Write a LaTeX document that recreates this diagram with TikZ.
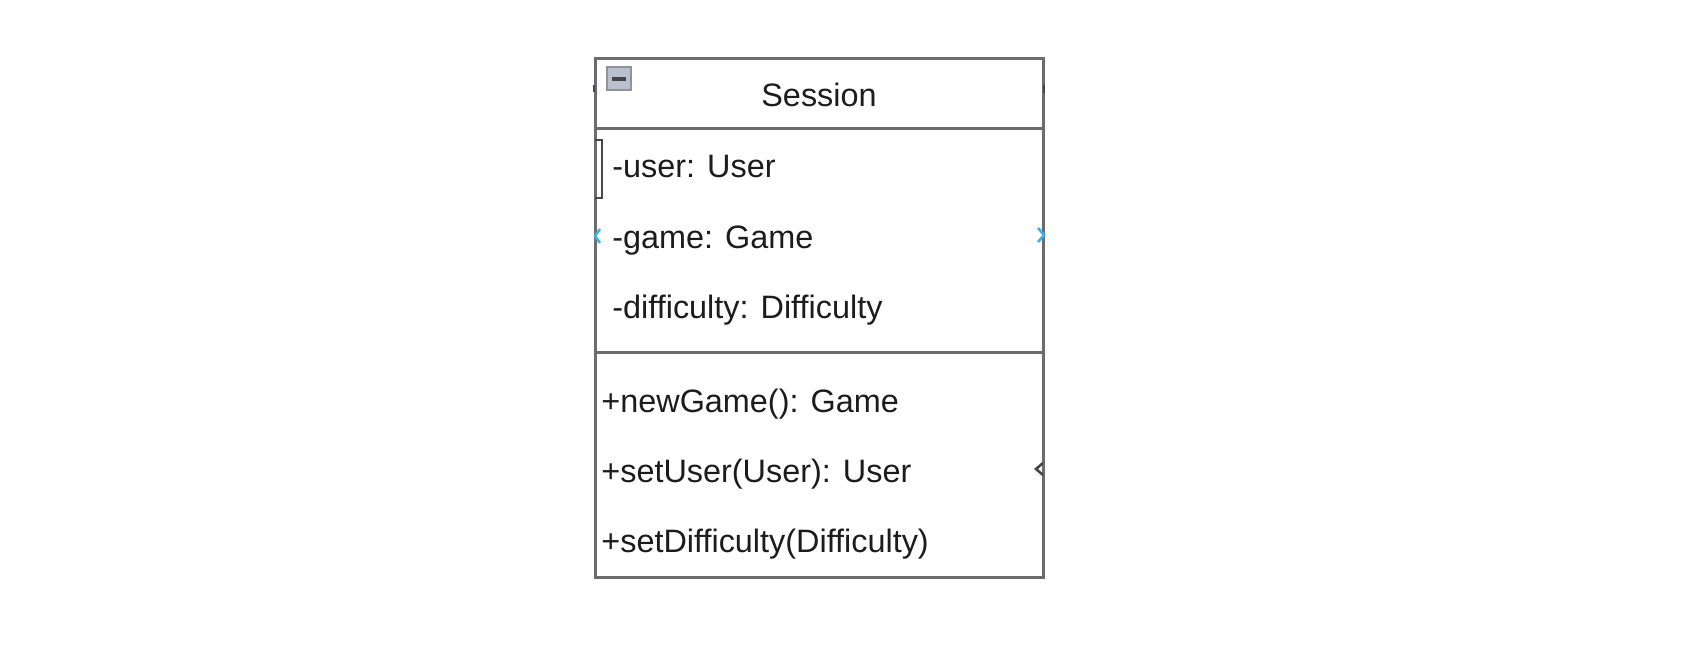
\documentclass[tikz,border=0pt]{standalone}
\usepackage{fontspec}
\setmainfont{Liberation Sans}
\definecolor{frame}{RGB}{108,108,108}
\definecolor{ink}{RGB}{28,28,28}
\definecolor{handle}{RGB}{70,70,70}
\definecolor{hint}{RGB}{64,176,232}
\definecolor{iconfill}{RGB}{186,192,204}
\definecolor{iconline}{RGB}{140,148,164}
\usetikzlibrary{positioning}

\begin{document}
\begin{tikzpicture}[x=0.5pt, y=-0.5pt,
    member/.style={anchor=base west, inner sep=0pt, text=ink, font=\fontsize{16.2}{19}\selectfont},
    title/.style={anchor=base, inner sep=0pt, text=ink, font=\fontsize{16.2}{19}\selectfont}]
          \useasboundingbox (0,0) rectangle (1684,660);
          % class box and compartments
          \draw[frame, line width=1.5pt] (595,58) rectangle (1043,577);
          \draw[frame, line width=1.5pt] (595,128) -- (1043,128);
          \draw[frame, line width=1.5pt] (595,352) -- (1043,352);
          % collapse icon
          \draw[iconline, fill=iconfill, line width=0.6pt] (607,67) rectangle (631,90);
          \draw[handle, line width=1.6pt] (612,79) -- (626,79);
          % name
          \node[title] (name) at (819,106) {Session};
          % attributes
          \node[member] (user) at (612,177) {-user: User};
          \node[member] (game) at (612,248) {-game: Game};
          \node[member] (diff) at (612,318) {-difficulty: Difficulty};
          % operations
          \node[member] (newgame) at (601,412) {+newGame(): Game};
          \node[member] (setuser) at (601,482) {+setUser(User): User};
          \node[member] (setdiff) at (601,552) {+setDifficulty(Difficulty)};
          % editor marks
          \draw[handle, line width=1.3pt] (595,140) -- (602,140) -- (602,198) -- (595,198);
          \draw[hint, line width=1.3pt] (600,229) -- (595,236) -- (600,243);
          \draw[hint, line width=1.3pt] (1038,228) -- (1044,235) -- (1038,242);
          \draw[handle, line width=1.3pt] (1043,463) -- (1036,469) -- (1043,475);
          \draw[handle, line width=1.2pt] (1044,85) -- (1044,93);
          \draw[handle, line width=1.2pt] (594,85) -- (594,92);
        \end{tikzpicture}
\end{document}
